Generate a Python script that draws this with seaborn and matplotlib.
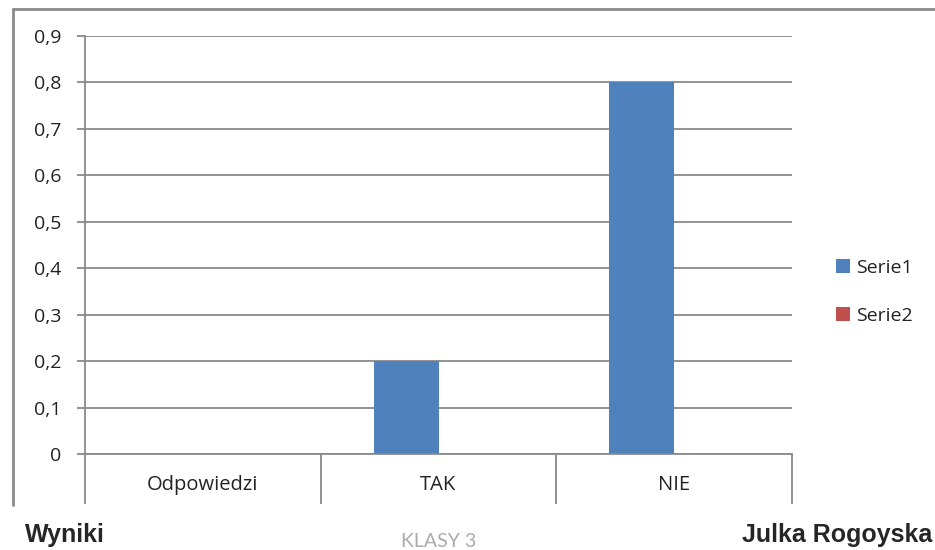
"""
Bar chart of survey answers (Wyniki, KLASY 3).
"""
import pandas as pd
import seaborn as sns
import matplotlib.pyplot as plt
from matplotlib.ticker import FuncFormatter, FixedLocator
from matplotlib.lines import Line2D
from matplotlib.patches import Patch

categories = ["Odpowiedzi", "TAK", "NIE"]
series_names = ["Serie1", "Serie2"]
serie1 = [0.0, 0.2, 0.8]
serie2 = [0.0, 0.0, 0.0]
y_ticks = [0.0, 0.1, 0.2, 0.3, 0.4, 0.5, 0.6, 0.7, 0.8, 0.9]

colors = {"Serie1": "#4F81BD", "Serie2": "#C0504D"}
grid_color = "#8a8a8a"
text_color = "#222222"

df = pd.DataFrame({
    "kategoria": categories * 2,
    "seria": [series_names[0]] * 3 + [series_names[1]] * 3,
    "wartosc": serie1 + serie2,
})

sns.set_style("white")
plt.rcParams["font.family"] = ["Open Sans", "DejaVu Sans"]

W, H = 935, 550
fig = plt.figure(figsize=(W / 100, H / 100), dpi=100)
ax = fig.add_axes([85 / W, 1 - 454 / H, (792 - 85) / W, (454 - 36) / H])

sns.barplot(
    data=df, x="kategoria", y="wartosc", hue="seria",
    order=categories, hue_order=series_names, palette=colors,
    saturation=1, width=0.55, linewidth=0, ax=ax, legend=False,
)

ax.set_ylim(0, 0.9)
ax.set_xlim(-0.5, 2.5)
ax.set_xlabel("")
ax.set_ylabel("")
ax.yaxis.set_major_locator(FixedLocator(y_ticks))
ax.yaxis.set_major_formatter(
    FuncFormatter(lambda v, _: "0" if abs(v) < 1e-9 else f"{v:.1f}".replace(".", ","))
)
ax.grid(axis="y", color=grid_color, linewidth=1.3)
ax.set_axisbelow(True)

for side in ("top", "right"):
    ax.spines[side].set_visible(False)
for side in ("left", "bottom"):
    ax.spines[side].set_color(grid_color)
    ax.spines[side].set_linewidth(1.3)

ax.tick_params(axis="y", length=6, width=1.3, color=grid_color, pad=11,
               labelsize=14, labelcolor=text_color, left=True)
ax.tick_params(axis="x", which="major", length=0, pad=15,
               labelsize=14.5, labelcolor=text_color)
ax.xaxis.set_minor_locator(FixedLocator([-0.5, 0.5, 1.5, 2.5]))
ax.tick_params(axis="x", which="minor", length=36, width=1.3,
               color=grid_color, bottom=True)

handles = [Patch(facecolor=colors[s], edgecolor="none") for s in series_names]
ax.legend(handles, series_names, loc="center left",
          bbox_to_anchor=(826 / W, 1 - 292 / H), bbox_transform=fig.transFigure,
          frameon=False, fontsize=14, labelcolor=text_color,
          handlelength=0.75, handleheight=0.75,
          handletextpad=0.3, labelspacing=1.55, borderpad=0)

# frame of the chart area
fig.add_artist(Line2D([13 / W, 1.0], [1 - 9 / H, 1 - 9 / H],
                      transform=fig.transFigure, color=grid_color, linewidth=2))
fig.add_artist(Line2D([13 / W, 13 / W], [1 - 9 / H, 1 - 505 / H],
                      transform=fig.transFigure, color=grid_color, linewidth=2))

fig.text(25 / W, 1 - 542 / H, "Wyniki", fontsize=18, fontweight="bold",
         family="Liberation Sans", ha="left", va="baseline")
fig.text(932 / W, 1 - 542 / H, "Julka Rogoyska", fontsize=18, fontweight="bold",
         family="Liberation Sans", ha="right", va="baseline")
fig.text(439 / W, 1 - 547 / H, "KLASY 3", fontsize=14, color="#ababab",
         family="Lato", ha="center", va="baseline")

fig.savefig("out.png", dpi=100)
